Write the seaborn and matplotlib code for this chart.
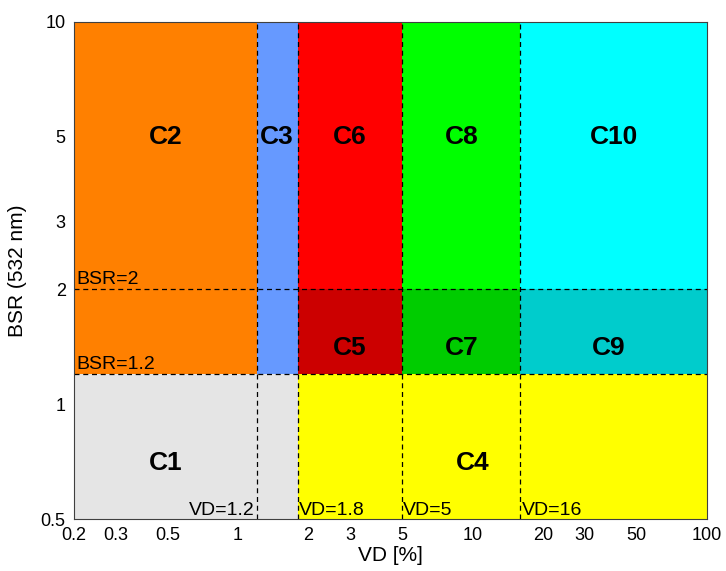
import matplotlib
matplotlib.use("Agg")
import matplotlib.pyplot as plt
import seaborn as sns
import pandas as pd

# class boxes: VD range [%] and BSR range
classes = ["C1", "C2", "C3", "C4", "C5", "C6", "C7", "C8", "C9", "C10"]
vd_lo = [0.2, 0.2, 1.2, 1.8, 1.8, 1.8, 5, 5, 16, 16]
vd_hi = [1.8, 1.2, 1.8, 100, 5, 5, 16, 16, 100, 100]
bsr_lo = [0.5, 1.2, 1.2, 0.5, 1.2, 2, 1.2, 2, 1.2, 2]
bsr_hi = [1.2, 10, 10, 1.2, 2, 10, 2, 10, 2, 10]
colors = ["#e5e5e5", "#ff8000", "#6699ff", "#ffff00", "#cc0000",
          "#ff0000", "#00cc00", "#00ff00", "#00cccc", "#00ffff"]
# label positions
lab_x = [0.49, 0.49, 1.47, 10, 3, 3, 9, 9, 38, 40]
lab_y = [0.70, 5, 5, 0.70, 1.4, 5, 1.4, 5, 1.4, 5]

vd_thresholds = [1.2, 1.8, 5, 16]
bsr_thresholds = [1.2, 2]

xticks = [0.2, 0.3, 0.5, 1, 2, 3, 5, 10, 20, 30, 50, 100]
yticks = [0.5, 1, 2, 3, 5, 10]

df = pd.DataFrame({"cls": classes, "x0": vd_lo, "x1": vd_hi,
                   "y0": bsr_lo, "y1": bsr_hi, "color": colors,
                   "lx": lab_x, "ly": lab_y})

sns.set_style("white")
plt.rcParams["font.family"] = ["Liberation Sans", "DejaVu Sans"]
plt.rcParams["text.color"] = "black"
plt.rcParams["axes.labelcolor"] = "black"
plt.rcParams["xtick.color"] = "black"
plt.rcParams["ytick.color"] = "black"

fig = plt.figure(figsize=(7.26, 5.71), dpi=100)
ax = fig.add_axes([0.102, 0.091, 0.872, 0.8705])
ax.set_xscale("log")
ax.set_yscale("log")

for _, r in df.iterrows():
    ax.fill_between([r.x0, r.x1], r.y0, r.y1, color=r.color, lw=0, zorder=1)
    ax.text(r.lx, r.ly, r.cls, ha="center", va="center",
            fontsize=19, fontweight="bold", zorder=4)

for v in vd_thresholds:
    ax.axvline(v, color="black", ls=(0, (4, 3)), lw=0.9, zorder=3)
for b in bsr_thresholds:
    ax.axhline(b, color="black", ls=(0, (4, 3)), lw=0.9, zorder=3)

# threshold annotations
fs = 14
ax.text(0.205, 2.01, "BSR=2", ha="left", va="bottom", fontsize=fs)
ax.text(0.205, 1.205, "BSR=1.2", ha="left", va="bottom", fontsize=fs)
ax.text(1.18, 0.5, "VD=1.2", ha="right", va="bottom", fontsize=fs)
ax.text(1.82, 0.5, "VD=1.8", ha="left", va="bottom", fontsize=fs)
ax.text(5.05, 0.5, "VD=5", ha="left", va="bottom", fontsize=fs)
ax.text(16.2, 0.5, "VD=16", ha="left", va="bottom", fontsize=fs)

ax.set_xlim(0.2, 100)
ax.set_ylim(0.5, 10)
ax.set_xticks(xticks)
ax.set_xticklabels([f"{t:g}" for t in xticks])
ax.set_yticks(yticks)
ax.set_yticklabels([f"{t:g}" for t in yticks])
ax.minorticks_off()
ax.tick_params(length=0, labelsize=13, pad=6)
ax.set_xlabel("VD [%]", fontsize=15, labelpad=1)
ax.set_ylabel("BSR (532 nm)", fontsize=15, labelpad=10)
for s in ax.spines.values():
    s.set_color("#404040")
    s.set_linewidth(0.8)
    s.set_zorder(5)

fig.savefig("out.png", dpi=100)
